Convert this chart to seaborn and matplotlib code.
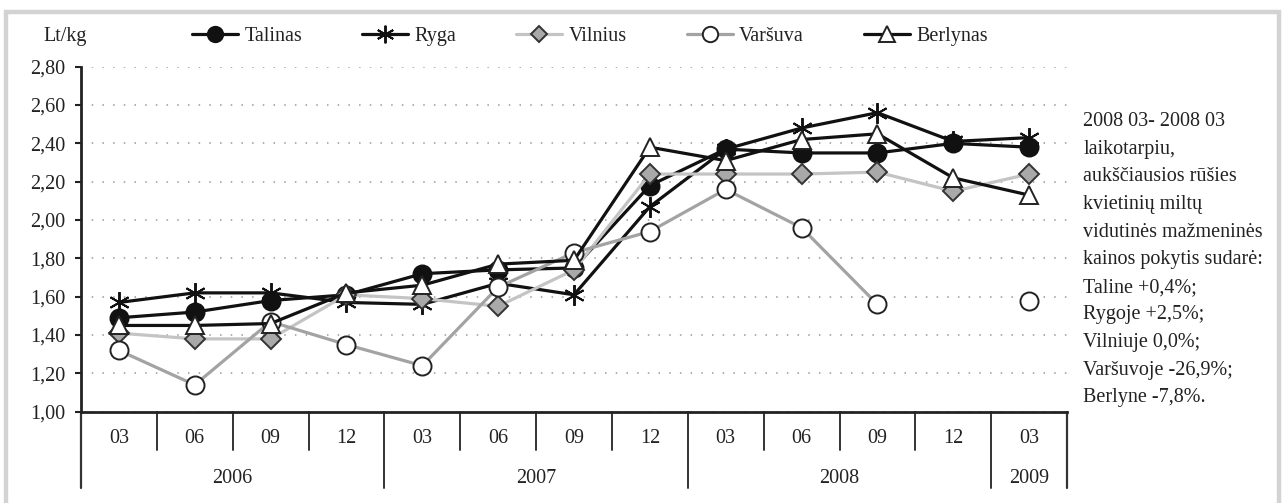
import numpy as np
import pandas as pd
import matplotlib
matplotlib.use("Agg")
import matplotlib.pyplot as plt
import matplotlib.transforms as mtransforms
from matplotlib.patches import Rectangle
from matplotlib.ticker import FuncFormatter
import seaborn as sns

# --- data (Lt/kg, quarterly) ---
months = ["03", "06", "09", "12", "03", "06", "09", "12", "03", "06", "09", "12", "03"]
years = ["2006", "2007", "2008", "2009"]
year_first = [0, 4, 8, 12]   # first quarter index of each year
year_last = [3, 7, 11, 12]

talinas = [1.49, 1.52, 1.58, 1.61, 1.72, 1.74, 1.75, 2.18, 2.37, 2.35, 2.35, 2.40, 2.38]
ryga = [1.57, 1.62, 1.62, 1.57, 1.56, 1.67, 1.61, 2.07, 2.37, 2.48, 2.56, 2.41, 2.43]
vilnius = [1.41, 1.38, 1.38, 1.61, 1.59, 1.55, 1.74, 2.24, 2.24, 2.24, 2.25, 2.15, 2.24]
varsuva = [1.32, 1.14, 1.47, 1.35, 1.24, 1.65, 1.83, 1.94, 2.16, 1.96, 1.56, np.nan, 1.58]
berlynas = [1.45, 1.45, 1.46, 1.62, 1.66, 1.77, 1.79, 2.38, 2.31, 2.42, 2.45, 2.22, 2.13]

names = ["Talinas", "Ryga", "Vilnius", "Varšuva", "Berlynas"]
values = [talinas, ryga, vilnius, varsuva, berlynas]

note = ("2008 03- 2008 03\nlaikotarpiu,\naukščiausios rūšies\nkvietinių miltų\n"
        "vidutinės mažmeninės\nkainos pokytis sudarė:\nTaline +0,4%;\nRygoje +2,5%;\n"
        "Vilniuje 0,0%;\nVaršuvoje -26,9%;\nBerlyne -7,8%.")

# --- long table, with a segment id so a missing quarter breaks the line ---
rows = []
for name, vals in zip(names, values):
    seg = 0
    for i, v in enumerate(vals):
        if np.isnan(v):
            seg += 1
            continue
        rows.append({"city": name, "pos": i, "price": v, "seg": seg})
df = pd.DataFrame(rows)

# line / marker look per city
styles = {
    "Talinas": dict(color="#111111", marker="o", ms=13, mfc="#111111", mec="#111111"),
    "Ryga": dict(color="#111111", marker=(6, 2, 0), ms=15, mfc="#111111", mec="#111111"),
    "Vilnius": dict(color="#c4c4c4", marker="D", ms=10, mfc="#a9a9a9", mec="#333333"),
    "Varšuva": dict(color="#a3a3a3", marker="o", ms=13, mfc="white", mec="#222222"),
    "Berlynas": dict(color="#111111", marker="^", ms=13, mfc="white", mec="#222222"),
}

sns.set_style("white")
plt.rcParams["font.family"] = ["Liberation Serif", "DejaVu Serif"]
plt.rcParams["text.color"] = "#222222"

fig = plt.figure(figsize=(12.85, 5.03), dpi=100)
ax = fig.add_axes([0.063, 0.1815, 0.7674, 0.6859])

for name in names:
    st = styles[name]
    sns.lineplot(data=df[df["city"] == name], x="pos", y="price", units="seg",
                 estimator=None, ax=ax, color=st["color"], linewidth=2.3,
                 marker=st["marker"], markersize=st["ms"], markerfacecolor=st["mfc"],
                 markeredgecolor=st["mec"], markeredgewidth=1.4, label=name)

if ax.get_legend() is not None:
    ax.get_legend().remove()

# --- axes ---
ax.set_xlim(-0.5, len(months) - 0.5)
ax.set_ylim(1.0, 2.8)
ax.set_yticks(np.arange(1.0, 2.81, 0.2))
ax.yaxis.set_major_formatter(FuncFormatter(lambda v, p: f"{v:.2f}".replace(".", ",")))
ax.tick_params(axis="y", which="major", left=True, length=4, width=1.5,
               pad=7, labelsize=14.5, colors="#222222")
ax.set_xticks([])
ax.set_xlabel("")
ax.set_ylabel("")
ax.grid(axis="y", color="#9a9a9a", linestyle=(0, (1, 6)), linewidth=1.1)
ax.grid(axis="x", visible=False)
for side in ["top", "right"]:
    ax.spines[side].set_visible(False)
for side in ["left", "bottom"]:
    ax.spines[side].set_color("#222222")
    ax.spines[side].set_linewidth(2)

# category axis: month boxes and year boxes below the plot
trans = mtransforms.blended_transform_factory(ax.transData, ax.transAxes)
short_depth = -0.11
long_depth = -0.222
year_edges = [year_first[0] - 0.5] + [l + 0.5 for l in year_last]
for i in range(len(months) - 1):
    b = i + 0.5
    depth = long_depth if b in year_edges else short_depth
    ax.plot([b, b], [0, depth], transform=trans, color="#333333", lw=1.4, clip_on=False)
for b in [year_edges[0], year_edges[-1]]:
    ax.plot([b, b], [0, long_depth], transform=trans, color="#333333", lw=1.6, clip_on=False)
for i, m in enumerate(months):
    ax.text(i, -0.078, m, transform=trans, ha="center", va="center", fontsize=14.5)
for y, a, b in zip(years, year_first, year_last):
    ax.text((a + b) / 2, -0.195, y, transform=trans, ha="center", va="center", fontsize=14.5)

# unit label and note
fig.text(0.0335, 0.928, "Lt/kg", ha="left", va="center", fontsize=14.5)
fig.text(0.843, 0.777, note, ha="left", va="top", fontsize=14.5, linespacing=1.615)

# legend across the top
handles, labels = ax.get_legend_handles_labels()
uniq = dict(zip(labels, handles))
fig.legend([uniq[n] for n in names], names, loc="center", bbox_to_anchor=(0.459, 0.928),
           ncol=5, frameon=False, fontsize=14.5, handlelength=2.3, handletextpad=0.3,
           columnspacing=2.98, markerscale=0.85)

# light grey frame around the figure
fig.patches.append(Rectangle((0.0047, -0.05), 0.9906, 1.026, transform=fig.transFigure,
                             fill=False, edgecolor="#d3d3d3", linewidth=3.2))

fig.savefig("out.png", dpi=100)
